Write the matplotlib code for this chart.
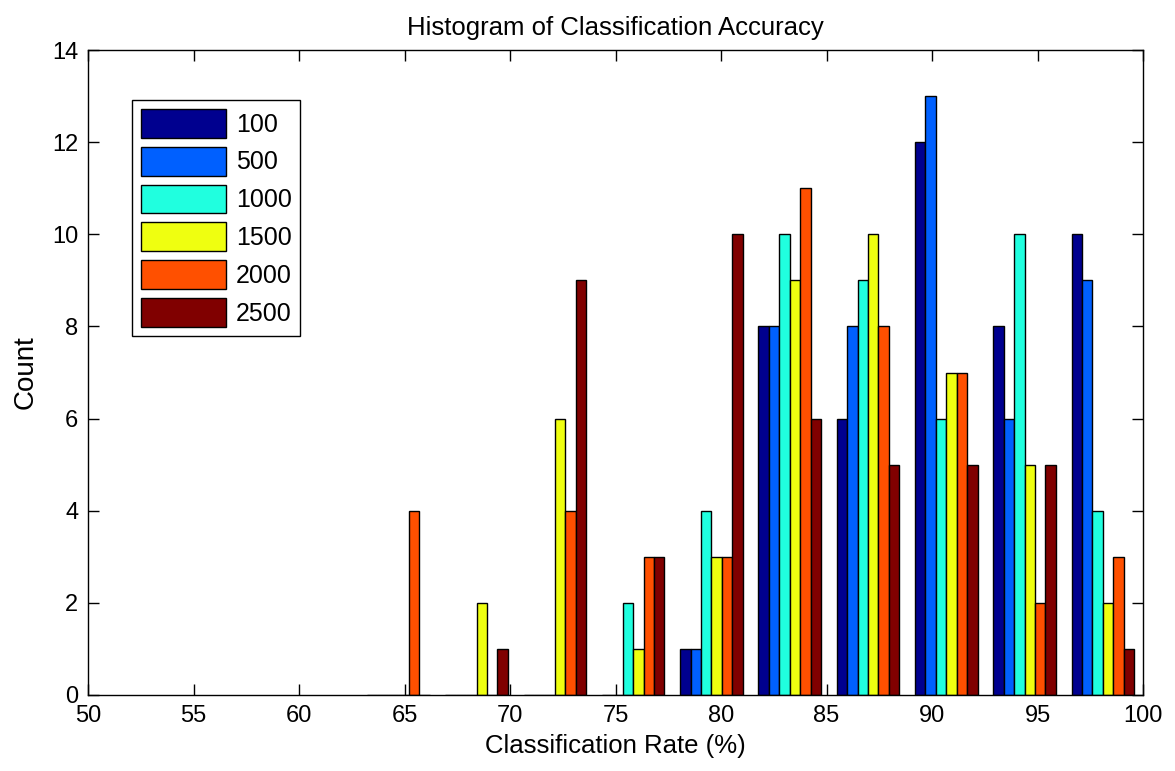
import matplotlib.pyplot as plt
import numpy as np

plt.rcParams['font.family'] = ['Liberation Sans', 'DejaVu Sans']

# Histogram bins (10 bins between the lowest and highest rate)
bin_start = 62.85   # Unit: %
bin_width = 3.71    # Unit: %
n_bins = 10

# Counts per bin for each setting
labels = ['100', '500', '1000', '1500', '2000', '2500']
counts_100 = [0, 0, 0, 0, 1, 8, 6, 12, 8, 10]
counts_500 = [0, 0, 0, 0, 1, 8, 8, 13, 6, 9]
counts_1000 = [0, 0, 0, 2, 4, 10, 9, 6, 10, 4]
counts_1500 = [0, 2, 6, 1, 3, 9, 10, 7, 5, 2]
counts_2000 = [4, 0, 4, 3, 3, 11, 8, 7, 2, 3]
counts_2500 = [0, 1, 9, 3, 10, 6, 5, 5, 5, 1]

counts = [counts_100, counts_500, counts_1000, counts_1500, counts_2000, counts_2500]

# jet colormap, 6 levels
colors = [(0.0, 0.0, 0.5625),
          (0.0, 0.375, 1.0),
          (0.125, 1.0, 0.875),
          (0.9375, 1.0, 0.0625),
          (1.0, 0.3125, 0.0),
          (0.5, 0.0, 0.0)]

centers = bin_start + (np.arange(n_bins) + 0.5) * bin_width
bar_w = 0.8 * bin_width / len(counts)

fig = plt.figure(figsize=(11.75, 7.71), dpi=100)
ax = fig.add_axes([0.0749, 0.0986, 0.8979, 0.8365])

for n in range(len(counts)):
    x = centers + (n - (len(counts) - 1) / 2) * bar_w
    ax.bar(x, counts[n], width=bar_w, color=colors[n], edgecolor='k',
           linewidth=1.0, label=labels[n], zorder=2)

ax.set_xlim([50, 100])
ax.set_ylim([0, 14])
ax.set_xticks(np.arange(50, 101, 5))
ax.set_yticks(np.arange(0, 15, 2))

ax.tick_params(direction='in', length=8, width=1, top=True, right=True,
               labelsize=17, pad=7, colors='k')
for s in ax.spines.values():
    s.set_linewidth(1.0)

ax.set_xlabel('Classification Rate (%)', fontsize=18.5, labelpad=5)
ax.set_ylabel('Count', fontsize=20, labelpad=10)
ax.set_title('Histogram of Classification Accuracy', fontsize=18.5, pad=11)

leg = ax.legend(loc='upper left', bbox_to_anchor=(0.0417, 0.9225),
                borderaxespad=0, fontsize=18, handlelength=3.4,
                handleheight=1.4, handletextpad=0.4, labelspacing=0.36,
                borderpad=0.35, fancybox=False, framealpha=1, edgecolor='k')
leg.get_frame().set_linewidth(1.0)

fig.savefig('out.png', dpi=100)
